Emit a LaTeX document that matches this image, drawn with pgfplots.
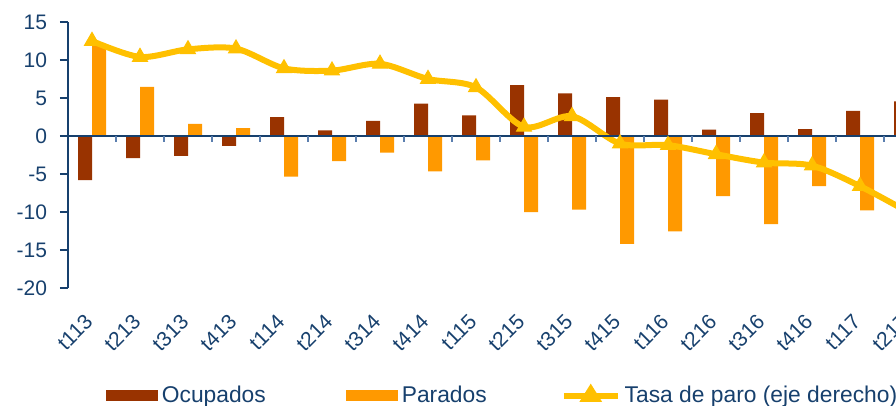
\documentclass[border=0pt]{standalone}
\usepackage{pgfplots}
\pgfplotsset{compat=1.18}
\usepackage{pgfplotstable}
\usepackage{fontspec}
\setmainfont{Liberation Sans}

\definecolor{ocup}{HTML}{993300}
\definecolor{parad}{HTML}{FF9900}
\definecolor{tasa}{HTML}{FFC000}
\definecolor{navy}{HTML}{17406D}
\definecolor{tickblue}{HTML}{5B7FAF}

% quarter, ocupados, parados, tasa de paro
\pgfplotstableread{
x  ocup  parad  tasa
0  -5.8  12.0   12.5
1  -2.9   6.45  10.4
2  -2.6   1.6   11.4
3  -1.3   1.05  11.5
4   2.5  -5.35   8.9
5   0.75 -3.3    8.6
6   2.0  -2.2    9.5
7   4.25 -4.65   7.5
8   2.7  -3.2    6.4
9   6.7  -10.0   1.2
10  5.6  -9.7    2.6
11  5.1  -14.2  -1.0
12  4.8  -12.55 -1.2
13  0.83 -7.9   -2.4
14  3.0  -11.6  -3.5
15  0.9  -6.6   -3.9
16  3.3  -9.8   -6.6
17  4.55 -8.0   -10.0
}\datatable

\begin{document}
\begin{tikzpicture}
% the axis runs past the right edge of the page, as in the cropped original
\begin{axis}[
    scale only axis,
    width=432bp, height=133bp,
    xmin=-0.5, xmax=17.5,
    ymin=-20, ymax=15,
    ytick={-20,-15,...,15},
    xtick=data,
    xticklabels={t113,t213,t313,t413,t114,t214,t314,t414,t115,t215,t315,t415,t116,t216,t316,t416,t117,t217},
    axis lines*=left,
    x axis line style={draw=none},
    y axis line style={navy, line width=1bp},
    xtick style={draw=none},
    ytick style={navy, line width=0.8bp},
    tick align=outside,
    major tick length=4bp,
    /pgf/number format/assume math mode=true,
    ticklabel style={font=\fontsize{10.5bp}{12bp}\selectfont, text=navy},
    yticklabel style={xshift=-3bp},
    xticklabel style={xshift=-1.5bp, rotate=45, anchor=east, inner sep=0pt},
    xticklabel shift=11bp,
    bar width=7bp,
    clip=true,
    legend columns=3,
    legend style={draw=none, fill=none, inner sep=0pt,
        at={(axis description cs:0.0434,-0.405)}, anchor=west,
        font=\fontsize{11.4bp}{13bp}\selectfont, text=navy,
        nodes={inner sep=2bp},
        /tikz/column 2/.append style={column sep=38bp},
        /tikz/column 4/.append style={column sep=35bp}},
]
\addplot[ybar, bar shift=-3.5bp, fill=ocup, draw=none,
    legend image code/.code={\fill[ocup] (0bp,-2.8bp) rectangle (26bp,2.8bp);}]
    table[x=x, y=ocup] {\datatable};
\addlegendentry{Ocupados}
\addplot[ybar, bar shift=3.5bp, fill=parad, draw=none,
    legend image code/.code={\fill[parad] (0bp,-2.8bp) rectangle (26bp,2.8bp);}]
    table[x=x, y=parad] {\datatable};
\addlegendentry{Parados}
\addplot[smooth, tasa, line width=3bp, mark=triangle*,
    mark size=4.3bp, mark options={fill=tasa, draw=tasa, line width=0.5bp},
    legend image code/.code={
        \draw[tasa, line width=3bp] (0bp,0bp) -- (27bp,0bp);
        \fill[tasa] (13.5bp,3.2bp) -- (10.5bp,-1.6bp) -- (16.5bp,-1.6bp) -- cycle;}]
    table[x=x, y=tasa] {\datatable};
\addlegendentry{Tasa de paro (eje derecho)}
\draw[navy, line width=1bp] (axis cs:-0.5,0) -- (axis cs:17.5,0);
\pgfplotsinvokeforeach{0.5,1.5,2.5,3.5,4.5,5.5,6.5,7.5,8.5,9.5,10.5,11.5,12.5,13.5,14.5,15.5,16.5}{
    \draw[tickblue, line width=0.8bp] (axis cs:#1,0) -- ([yshift=-3bp]axis cs:#1,0);
}
\coordinate (ll) at (rel axis cs:0,0);
\end{axis}
\pgfresetboundingbox
\path[use as bounding box] ([xshift=-34bp,yshift=-59bp]ll) rectangle ([xshift=414bp,yshift=144bp]ll);
\end{tikzpicture}
\end{document}
